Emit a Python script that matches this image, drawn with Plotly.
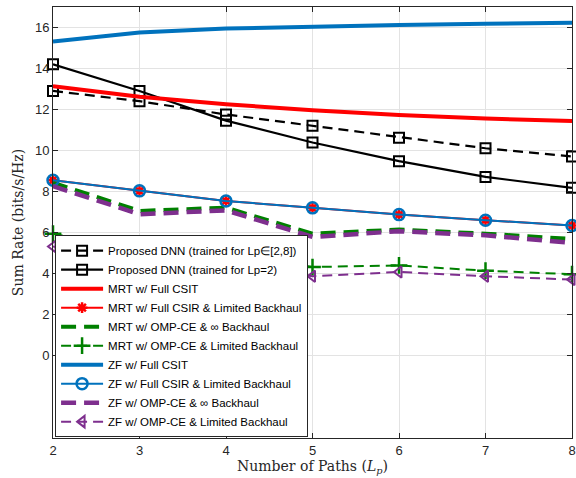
import plotly.graph_objects as go

paths = [2, 3, 4, 5, 6, 7, 8]

dnn_range = [12.9, 12.4, 11.75, 11.2, 10.62, 10.1, 9.7]
dnn_lp2 = [14.2, 12.9, 11.45, 10.38, 9.47, 8.7, 8.17]
mrt_full = [13.13, 12.62, 12.25, 11.96, 11.72, 11.55, 11.43]
mrt_csir_lb = [8.54, 8.02, 7.53, 7.19, 6.86, 6.59, 6.33]
mrt_omp_inf = [8.42, 7.04, 7.2, 5.93, 6.13, 5.93, 5.67]
mrt_omp_lb = [5.93, 5.04, 5.04, 4.3, 4.38, 4.12, 3.95]
zf_full = [15.32, 15.75, 15.95, 16.05, 16.12, 16.18, 16.23]
zf_csir_lb = [8.54, 8.02, 7.53, 7.19, 6.86, 6.59, 6.33]
zf_omp_inf = [8.25, 6.88, 7.07, 5.77, 6.05, 5.85, 5.48]
zf_omp_lb = [5.3, 4.5, 4.55, 3.85, 4.06, 3.85, 3.69]

ytick_vals = [0, 2, 4, 6, 8, 10, 12, 14, 16]

BLUE = "#0072BD"
PURPLE = "#7E2F8E"
GREEN = "#008000"
RED = "#FF0000"

THIN_DASH = "10px,6px"
THICK_DASH = "15px,8px"

fig = go.Figure()

def add(name, y, color, width, dash, symbol=None, msize=9, mline=2):
    mode = "lines+markers" if symbol else "lines"
    marker = dict(symbol=symbol, size=msize, color=color,
                  line=dict(color=color, width=mline)) if symbol else None
    fig.add_trace(go.Scatter(x=paths, y=y, name=name, mode=mode,
                             line=dict(color=color, width=width, dash=dash),
                             marker=marker, cliponaxis=False))

add("Proposed DNN (trained for Lp\u2208[2,8])", dnn_range, "black", 2.2, THIN_DASH, "square-open", 10, 2)
add("Proposed DNN (trained for Lp=2)", dnn_lp2, "black", 2.2, "solid", "square-open", 10, 2)
add("MRT w/ Full CSIT", mrt_full, RED, 4, "solid")
add("MRT w/ Full CSIR & Limited Backhaul", mrt_csir_lb, RED, 2, "solid", "asterisk-open", 9, 2.5)
add("MRT w/ OMP-CE & \u221e Backhaul", mrt_omp_inf, GREEN, 4, THICK_DASH)
add("MRT w/ OMP-CE & Limited Backhaul", mrt_omp_lb, GREEN, 2, THIN_DASH, "cross-thin-open", 12, 2.5)
add("ZF w/ Full CSIT", zf_full, BLUE, 4, "solid")
add("ZF w/ Full CSIR & Limited Backhaul", zf_csir_lb, BLUE, 2, "solid", "circle-open", 11, 2.5)
add("ZF w/ OMP-CE & \u221e Backhaul", zf_omp_inf, PURPLE, 4.5, THICK_DASH)
add("ZF w/ OMP-CE & Limited Backhaul", zf_omp_lb, PURPLE, 2, THIN_DASH, "triangle-left-open", 10, 2)

TICKFONT = dict(family="Liberation Sans, Arial", size=13, color="#262626")

axis_common = dict(
    showline=True, linecolor="#262626", linewidth=1, mirror="ticks",
    ticks="inside", ticklen=5, tickcolor="#262626",
    showgrid=True, gridcolor="#E3E3E3", gridwidth=1, zeroline=False,
    ticklabeloverflow="allow",
    tickfont=TICKFONT,
)

fig.update_layout(
    width=576, height=478,
    margin=dict(l=53, r=4, t=7, b=40, autoexpand=False),
    paper_bgcolor="white", plot_bgcolor="white",
    xaxis=dict(range=[2, 8], tickvals=paths, **axis_common,
               title=dict(text="Number of Paths (<i>L</i><sub><i>p</i></sub>)",
                          font=dict(family="DejaVu Serif", size=14, color="#262626"),
                          standoff=2)),
    yaxis=dict(range=[-4.05, 17], tickvals=ytick_vals, **axis_common,
               title=dict(text="Sum Rate (bits/s/Hz)",
                          font=dict(family="DejaVu Serif", size=14, color="#262626"),
                          standoff=8)),
    legend=dict(x=0.004, y=0.002, xanchor="left", yanchor="bottom",
                bgcolor="white", bordercolor="#262626", borderwidth=1,
                font=dict(family="Liberation Sans, Arial", size=11.5, color="black"),
                tracegroupgap=0, itemwidth=42),
    showlegend=True,
)

fig.write_html("out.html",
               config={"displayModeBar": False},
               post_script="document.body.style.margin='0';document.body.style.overflow='hidden';")
